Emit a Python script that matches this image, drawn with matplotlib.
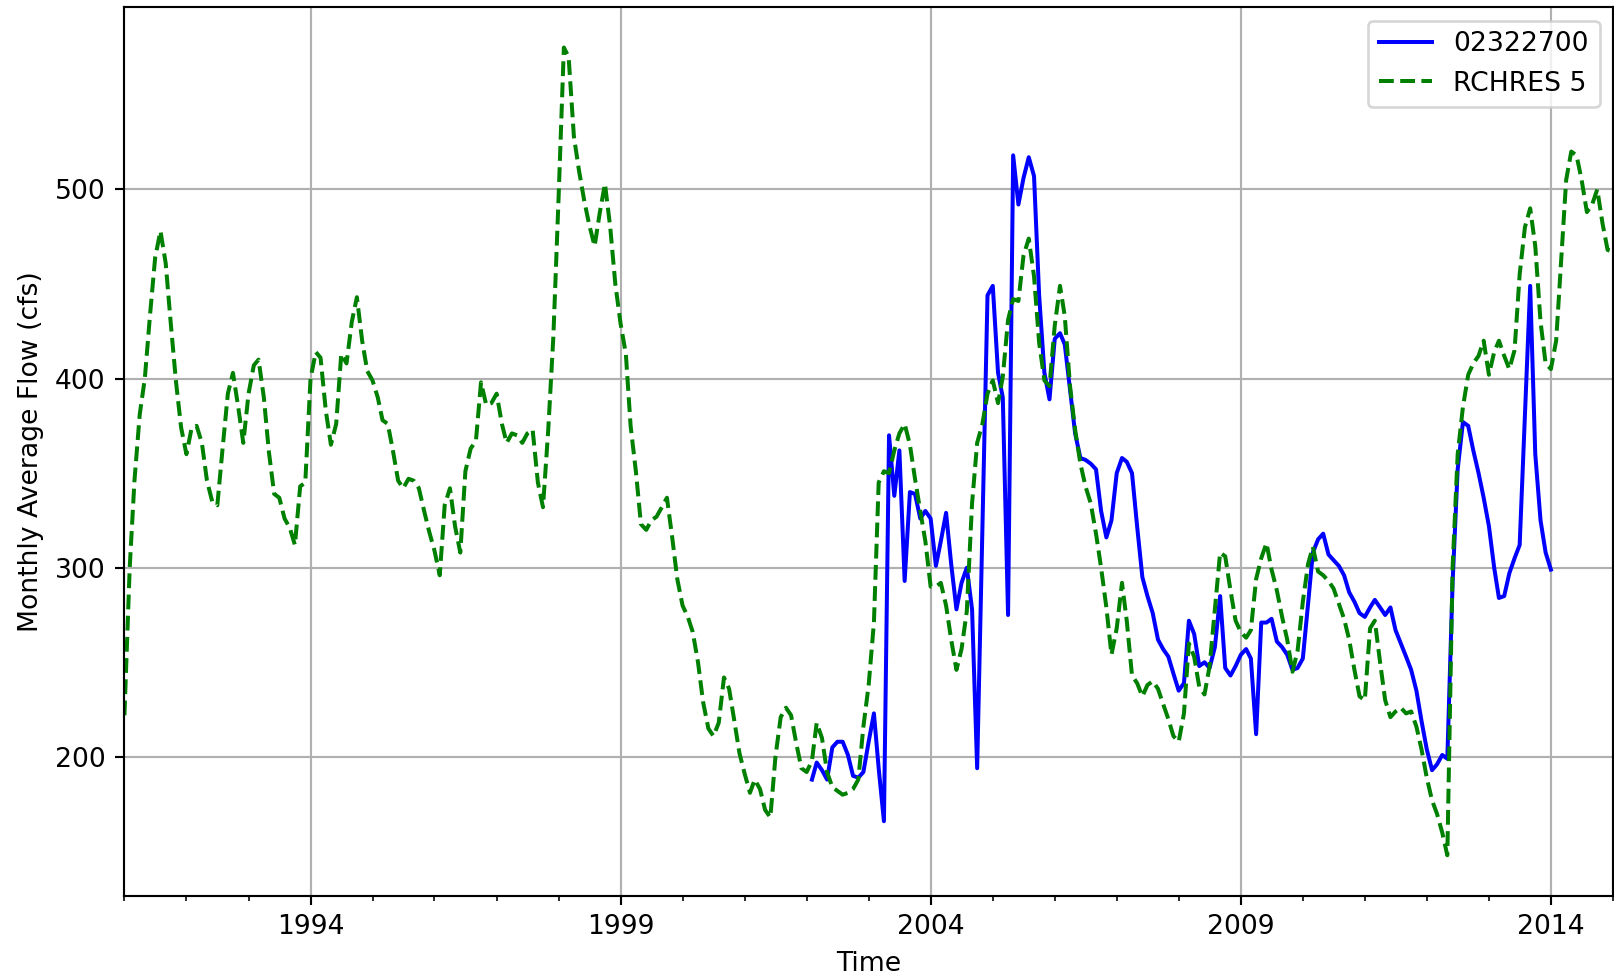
import matplotlib
matplotlib.use('Agg')
import matplotlib.pyplot as plt
import matplotlib.dates as mdates
import pandas as pd
from datetime import datetime

# RCHRES 5 simulated monthly average flow (cfs), one row per year, Jan 1991 - Jan 2015
rchres_flow = [
    222, 300, 346, 381, 400, 434, 464, 478, 461, 429, 398, 374,  # 1991
    360, 374, 375, 366, 346, 335, 333, 363, 392, 403, 385, 366,  # 1992
    392, 407, 410, 390, 361, 339, 337, 326, 321, 312, 343, 345,  # 1993
    400, 414, 411, 383, 365, 376, 413, 408, 430, 443, 420, 404,  # 1994
    399, 390, 378, 376, 362, 346, 342, 347, 346, 342, 330, 319,  # 1995
    309, 296, 333, 342, 322, 308, 351, 363, 367, 398, 386, 387,  # 1996
    392, 376, 366, 371, 370, 366, 371, 373, 345, 332, 373, 422,  # 1997
    496, 575, 570, 528, 510, 494, 481, 470, 488, 503, 480, 450,  # 1998
    429, 413, 375, 351, 323, 320, 325, 327, 332, 337, 316, 294,  # 1999
    280, 274, 266, 250, 229, 215, 211, 218, 242, 236, 219, 202,  # 2000
    191, 181, 188, 183, 172, 168, 200, 221, 226, 222, 207, 194,  # 2001
    192, 198, 218, 210, 192, 184, 182, 180, 181, 183, 188, 216,  # 2002
    238, 271, 345, 351, 350, 362, 371, 376, 365, 347, 330, 314,  # 2003
    290, 290, 292, 280, 262, 246, 257, 277, 334, 366, 376, 392,  # 2004
    399, 387, 401, 431, 442, 441, 465, 474, 454, 419, 399, 396,  # 2005
    428, 449, 433, 396, 373, 355, 343, 334, 318, 300, 279, 254,  # 2006
    268, 292, 272, 243, 239, 232, 238, 240, 236, 228, 220, 211,  # 2007
    208, 223, 260, 253, 237, 233, 248, 278, 308, 306, 288, 272,  # 2008
    266, 263, 267, 294, 305, 313, 299, 288, 274, 262, 245, 256,  # 2009
    282, 302, 311, 298, 296, 293, 289, 281, 273, 262, 246, 232,  # 2010
    230, 268, 272, 250, 230, 221, 224, 226, 223, 224, 216, 204,  # 2011
    189, 177, 170, 160, 148, 300, 360, 385, 402, 408, 412, 420,  # 2012
    402, 414, 420, 412, 405, 415, 455, 480, 490, 470, 430, 408,  # 2013
    405, 420, 460, 505, 520, 518, 505, 488, 492, 500, 482, 468,  # 2014
    467,                                                         # 2015
]

# gage 02322700 observed monthly average flow (cfs), Feb 2002 - Jan 2014
gage_flow = [
    188, 197, 193, 188, 205, 208, 208, 201, 190, 189, 192,       # 2002
    208, 223, 194, 166, 370, 338, 362, 293, 340, 339, 326, 330,  # 2003
    326, 301, 314, 329, 302, 278, 292, 300, 278, 194, 320, 444,  # 2004
    449, 403, 390, 275, 518, 492, 506, 517, 507, 444, 403, 389,  # 2005
    421, 424, 418, 394, 371, 358, 357, 355, 352, 330, 316, 325,  # 2006
    350, 358, 356, 350, 322, 295, 285, 276, 262, 257, 253, 244,  # 2007
    235, 239, 272, 265, 248, 250, 247, 258, 285, 247, 243, 248,  # 2008
    254, 257, 252, 212, 271, 271, 273, 261, 258, 254, 246, 247,  # 2009
    252, 281, 308, 315, 318, 307, 304, 301, 296, 287, 282, 276,  # 2010
    274, 279, 283, 279, 275, 279, 267, 260, 253, 246, 235, 219,  # 2011
    204, 193, 196, 201, 199, 292, 352, 377, 375, 362, 350, 337,  # 2012
    322, 300, 284, 285, 297, 305, 312, 380, 449, 360, 325, 308,  # 2013
    299,                                                         # 2014
]

rchres_start = '1991-01-01'
gage_start = '2002-02-01'
major_years = [1994, 1999, 2004, 2009, 2014]

rchres_dates = pd.date_range(rchres_start, periods=len(rchres_flow), freq='MS')
gage_dates = pd.date_range(gage_start, periods=len(gage_flow), freq='MS')

dpi = 192
fig = plt.figure(figsize=(1614 / dpi, 975 / dpi), dpi=dpi)
ax = fig.add_axes([0.0771, 0.0813, 0.9222, 0.9113])

ax.plot(gage_dates, gage_flow, color='b', label='02322700')
ax.plot(rchres_dates, rchres_flow, color='g', linestyle='--', label='RCHRES 5')

ax.set_xlim(rchres_dates[0], rchres_dates[-1])
ax.set_ylim(126.6, 596.3)

# major ticks every 5 years from 1994, minor every year
ax.set_xticks([datetime(y, 1, 1) for y in major_years])
ax.xaxis.set_major_formatter(mdates.DateFormatter('%Y'))
ax.xaxis.set_minor_locator(mdates.YearLocator())

ax.grid(True)
ax.set_xlabel('Time')
ax.set_ylabel('Monthly Average Flow (cfs)')
ax.legend(loc='upper right')

fig.savefig('out.png', dpi=dpi)
